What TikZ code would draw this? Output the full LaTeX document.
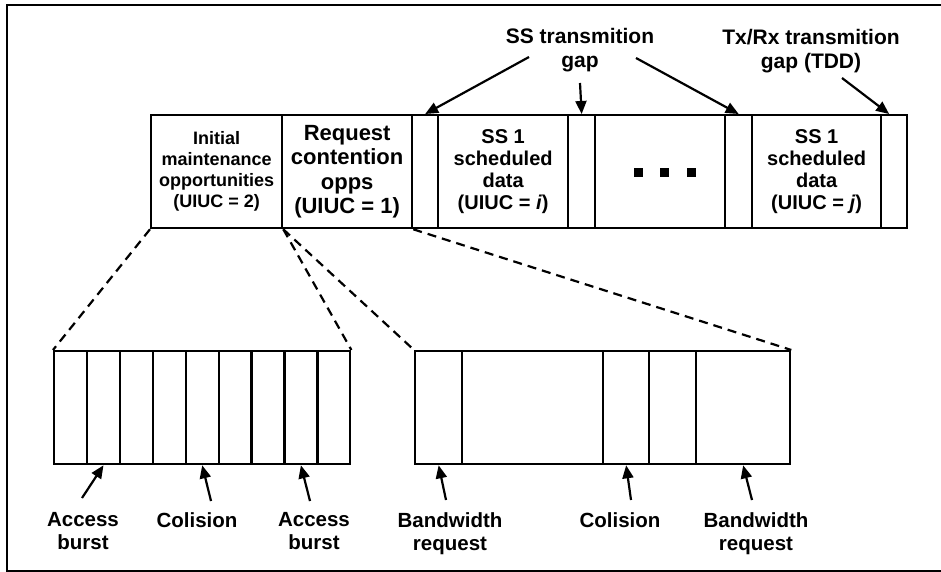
\documentclass[tikz,border=0pt]{standalone}
\usepackage{fontspec}
\setmainfont{Liberation Sans}
\usetikzlibrary{arrows.meta,calc}
\begin{document}
\begin{tikzpicture}[x=1pt,y=-1pt,
  cell/.style={draw, line width=2.3pt, anchor=north west, inner sep=0pt, minimum height=113pt, align=center, font=\bfseries\fontsize{20}{22}\selectfont},
  lbl/.style={anchor=north, inner sep=0pt, align=center, font=\bfseries\fontsize{20.5}{23}\selectfont},
  toplbl/.style={lbl, font=\bfseries\fontsize{21}{24}\selectfont},
  arr/.style={line width=2.2pt, -{Triangle[length=13pt,width=11pt]}},
  zoomline/.style={line width=2.2pt, dash pattern=on 9pt off 6pt},
]
\useasboundingbox (0,0) rectangle (941,572);
\draw[line width=2.6pt] (945,5) -- (7,5) -- (7,571) -- (945,571);

% top frame
\node[cell, minimum width=131pt, font=\bfseries\fontsize{18}{21}\selectfont] (init) at (150,114) {Initial\\maintenance\\opportunities\\(UIUC = 2)};
\node[cell, minimum width=130pt, font=\bfseries\fontsize{22}{24.5}\selectfont] (req) at (281,114) {Request\\contention\\opps\\(UIUC = 1)};
\node[cell, minimum width=26pt] (g1) at (411,114) {};
\node[cell, minimum width=130pt] (ss1) at (437,114) {SS 1\\scheduled\\data\\(UIUC = \textit{i})};
\node[cell, minimum width=27pt] (g2) at (567,114) {};
\node[cell, minimum width=130pt] (dots) at (594,114) {};
\node[cell, minimum width=27pt] (g3) at (724,114) {};
\node[cell, minimum width=129pt] (ssj) at (751,114) {SS 1\\scheduled\\data\\(UIUC = \textit{j})};
\node[cell, minimum width=26pt] (g4) at (880,114) {};

\foreach \dx in {-22,4,31}
  \fill ($(dots.center)+(\dx,0.5)$) +(-4.5,-4.5) rectangle +(4.5,4.5);

% bottom left box
\foreach \i in {1,...,9}
  \node[cell, minimum width=32.9pt] (a\i) at ({53+(\i-1)*32.9},350) {};

% bottom right box
\node[cell, minimum width=47pt] (b1) at (414,350) {};
\node[cell, minimum width=141pt] (b2) at (461,350) {};
\node[cell, minimum width=46pt] (b3) at (602,350) {};
\node[cell, minimum width=47pt] (b4) at (648,350) {};
\node[cell, minimum width=94pt] (b5) at (695,350) {};

% dashed zoom lines
\draw[zoomline] (init.south west) -- (a1.north west);
\draw[zoomline] (init.south east) -- (a9.north east);
\draw[zoomline] (init.south east) -- (b1.north west);
\draw[zoomline] (req.south east) -- (b5.north east);

% top labels and arrows
\node[toplbl] (ssgap) at (580,28) {SS transmition\\gap};
\node[toplbl] (txgap) at (811,29) {Tx/Rx transmition\\gap (TDD)};
\coordinate (t1) at (529,57);
\coordinate (t2) at (580,83);
\coordinate (t3) at (636,58);
\coordinate (t4) at (842,78);
\draw[arr] (t1) -- (g1.north);
\draw[arr] (t2) -- (g2.north);
\draw[arr] (t3) -- (g3.north);
\draw[arr] (t4) -- ($(g4.north)+(-5,0)$);

% bottom labels and arrows
\node[lbl] (acc1) at (83,512) {Access\\burst};
\node[lbl] (col1) at (197,512) {Colision};
\node[lbl] (acc2) at (314,512) {Access\\burst};
\node[lbl] (bw1) at (450,512) {Bandwidth\\request};
\node[lbl] (col2) at (620,512) {Colision};
\node[lbl] (bw2) at (756,512) {Bandwidth\\request};
\coordinate (s1) at (82,498);
\coordinate (s2) at (211,501);
\coordinate (s3) at (310,501);
\coordinate (s4) at (446,500);
\coordinate (s5) at (631,500);
\coordinate (s6) at (752,500);
\draw[arr] (s1) -- (a2.south);
\draw[arr] (s2) -- (a5.south);
\draw[arr] (s3) -- (a8.south);
\draw[arr] (s4) -- (b1.south);
\draw[arr] (s5) -- (b3.south);
\draw[arr] (s6) -- (b5.south);
\end{tikzpicture}
\end{document}
